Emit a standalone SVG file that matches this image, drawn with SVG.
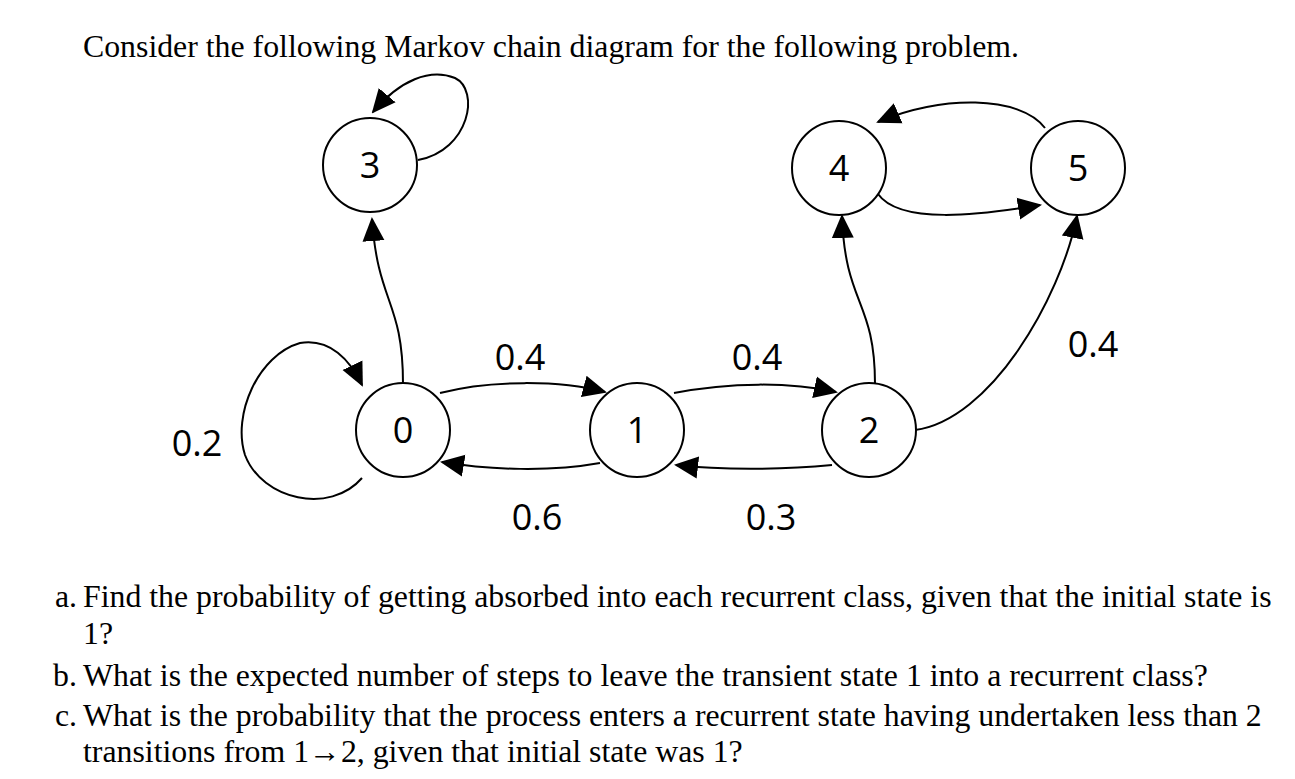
<svg xmlns="http://www.w3.org/2000/svg" width="1295" height="779" viewBox="0 0 1295 779">
<style>
.t{font-family:"Liberation Serif",serif;font-size:31.8px;fill:#000}
.n{fill:#fff;stroke:#000;stroke-width:2}
.l{font-family:"Open Sans","Liberation Sans",sans-serif;font-size:36px;fill:#000;text-anchor:middle}
.e{fill:none;stroke:#000;stroke-width:2;marker-end:url(#b)}
</style>
<defs>
<marker id="b" markerWidth="24" markerHeight="24" refX="22" refY="12" orient="auto" markerUnits="userSpaceOnUse" viewBox="0 0 24 24"><path d="M0,1L24,12L0,23z"/></marker></defs>
<text class="t" x="83" y="57">Consider the following Markov chain diagram for the following problem.</text>
<g id="connectors">
<path class="e" d="M418,160 C470,150 480,90 455,78 C430,68 400,80 373,112"/>
<path class="e" d="M403,384 C403,300 378,305 372,219"/>
<path class="e" d="M362,478 C330,515 262,500 245,455 C232,415 258,355 300,343 C330,338 350,360 362,385"/>
<path class="e" d="M440,393 C490,380 560,380 605,392"/>
<path class="e" d="M600,463 C550,472 490,470 442,462"/>
<path class="e" d="M674,393 C730,382 790,382 836,392"/>
<path class="e" d="M832,465 C780,470 720,470 676,465"/>
<path class="e" d="M875,384 C875,300 845,305 842,216"/>
<path class="e" d="M915,430 C990,420 1060,300 1077,216"/>
<path class="e" d="M878,194 C900,225 980,215 1040,205"/>
<path class="e" d="M1045,128 C1020,95 940,95 878,122"/>
</g>
<g id="node3"><circle class="n" cx="370" cy="165" r="47"/><text class="l" x="370" y="178">3</text></g>
<g id="node4"><circle class="n" cx="839" cy="168" r="47"/><text class="l" x="839" y="181">4</text></g>
<g id="node5"><circle class="n" cx="1078" cy="168" r="47"/><text class="l" x="1078" y="181">5</text></g>
<g id="node0"><circle class="n" cx="403" cy="430" r="47"/><text class="l" x="403" y="443">0</text></g>
<g id="node1"><circle class="n" cx="637" cy="430" r="47"/><text class="l" x="637" y="443">1</text></g>
<g id="node2"><circle class="n" cx="869" cy="430" r="47"/><text class="l" x="869" y="443">2</text></g>
<text class="l" x="520" y="370">0.4</text>
<text class="l" x="757" y="370">0.4</text>
<text class="l" x="1093" y="357">0.4</text>
<text class="l" x="197" y="456">0.2</text>
<text class="l" x="537" y="530">0.6</text>
<text class="l" x="771" y="530">0.3</text>
<text class="t" x="55" y="607">a.</text>
<text class="t" x="83" y="607">Find the probability of getting absorbed into each recurrent class, given that the initial state is</text>
<text class="t" x="83" y="644">1?</text>
<text class="t" x="53" y="686">b.</text>
<text class="t" x="83" y="686">What is the expected number of steps to leave the transient state 1 into a recurrent class?</text>
<text class="t" x="55" y="726">c.</text>
<text class="t" x="83" y="726">What is the probability that the process enters a recurrent state having undertaken less than 2</text>
<text class="t" x="83" y="762">transitions from 1→2, given that initial state was 1?</text>
</svg>
